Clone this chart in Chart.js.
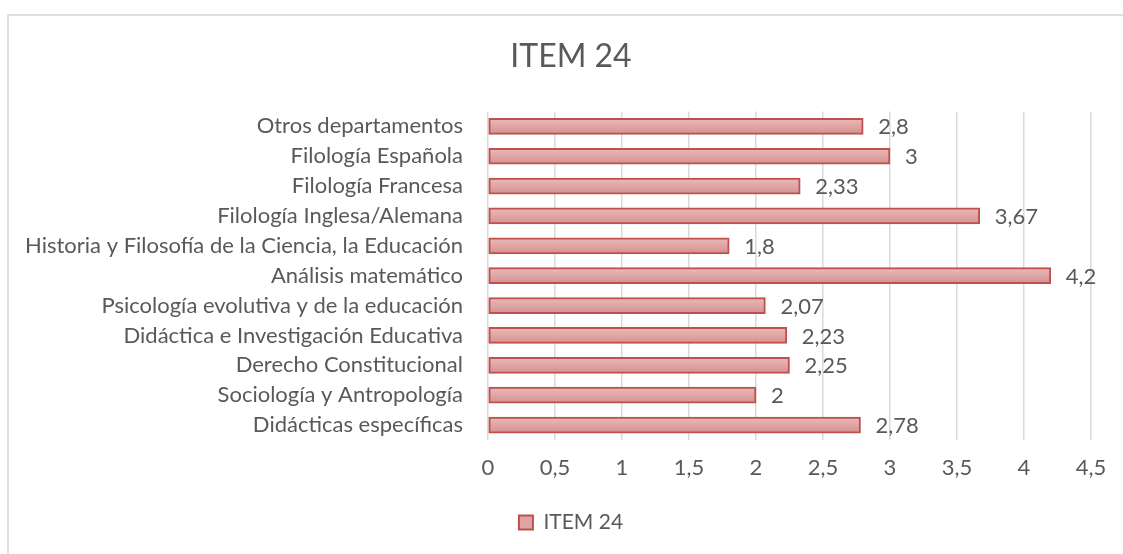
<!DOCTYPE html>
<html>
<head>
<meta charset="utf-8">
<script src="https://cdn.jsdelivr.net/npm/chart.js@4"></script>
<style>
    html, body { margin: 0; padding: 0; background: #fff; overflow: hidden; }
    #marco { position: absolute; left: 7px; top: 14px; width: 1200px; height: 600px; border: 2px solid #dedede; box-sizing: border-box; }
    #zona { position: absolute; left: 0; top: 0; width: 1123px; height: 554px; }
</style>
</head>
<body>
<div id="marco"></div>
<div id="zona"><canvas id="myChart"></canvas></div>
<script>
// ------------------------------ les données du graphique ------------------------------//
const departamentos = [
    'Otros departamentos',
    'Filología Española',
    'Filología Francesa',
    'Filología Inglesa/Alemana',
    'Historia y Filosofía de la Ciencia, la Educación',
    'Análisis matemático',
    'Psicología evolutiva y de la educación',
    'Didáctica e Investigación Educativa',
    'Derecho Constitucional',
    'Sociología y Antropología',
    'Didácticas específicas'
]
const valoresItem24 = [2.8, 3, 2.33, 3.67, 1.8, 4.2, 2.07, 2.23, 2.25, 2, 2.78]
const ticksX = [0, 0.5, 1, 1.5, 2, 2.5, 3, 3.5, 4, 4.5]
//---------------------------------------------------------------------------------------//

const gris = '#595959'
const fuente = 'Lato, "Noto Sans", sans-serif'
const coma = (v) => String(v).replace('.', ',')

// degradé vertical pour chaque barre
function relleno(context) {
    const chart = context.chart
    const y = chart.scales.y
    if (!y || context.type !== 'data' || isNaN(y.top)) return '#dc9f9e'
    const yc = y.getPixelForValue(context.dataIndex)
    const g = chart.ctx.createLinearGradient(0, yc - 8, 0, yc + 8)
    g.addColorStop(0, '#ebbab9')
    g.addColorStop(1, '#d39190')
    return g
}

// les étiquettes des valeurs à droite des barres
const etiquetas = {
    id: 'etiquetas',
    afterDatasetsDraw(chart) {
        const ctx = chart.ctx
        const meta = chart.getDatasetMeta(0)
        ctx.save()
        ctx.font = '22px ' + fuente
        ctx.fillStyle = gris
        ctx.textAlign = 'left'
        ctx.textBaseline = 'middle'
        meta.data.forEach((bar, i) => {
            ctx.fillText(coma(valoresItem24[i]), bar.x + 15, bar.y + 1)
        })
        ctx.restore()
    }
}

const ctx = document.getElementById('myChart').getContext('2d')
const myChart = new Chart(ctx, {
    type: 'bar',
    data: {
        labels: departamentos,
        datasets: [{
            label: 'ITEM 24',
            data: valoresItem24,
            backgroundColor: relleno,
            borderColor: '#c0504d',
            borderWidth: 2,
            borderSkipped: false,
            barThickness: 16
        }]
    },
    plugins: [etiquetas],
    options: {
        indexAxis: 'y',
        responsive: true,
        maintainAspectRatio: false,
        animation: false,
        layout: { padding: { left: 19, right: 0, top: 20, bottom: 11 } },
        scales: {
            x: {
                min: 0,
                max: 4.5,
                afterBuildTicks: (scale) => { scale.ticks = ticksX.map(v => ({ value: v })) },
                afterFit: (scale) => { scale.height = 62; scale.paddingRight = 32 },
                grid: { color: '#d9d9d9', lineWidth: 1.5, drawTicks: false },
                border: { display: false },
                ticks: {
                    color: gris,
                    padding: 15,
                    font: { family: fuente, size: 22 },
                    callback: (v) => coma(v)
                }
            },
            y: {
                afterFit: (scale) => { scale.width = 469 },
                grid: { display: false, drawTicks: false },
                border: { display: false },
                ticks: {
                    color: gris,
                    padding: 25,
                    autoSkip: false,
                    font: { family: fuente, size: 22 }
                }
            }
        },
        plugins: {
            title: {
                display: true,
                text: 'ITEM 24',
                color: gris,
                font: { family: fuente, size: 32, weight: 'normal' },
                padding: { top: 17, bottom: 36 }
            },
            legend: {
                position: 'bottom',
                labels: {
                    color: gris,
                    boxWidth: 14,
                    boxHeight: 14,
                    padding: 10,
                    font: { family: fuente, size: 21 },
                    generateLabels: () => [{
                        text: 'ITEM 24',
                        fillStyle: '#dea3a2',
                        strokeStyle: '#c0504d',
                        lineWidth: 2,
                        fontColor: gris,
                        datasetIndex: 0
                    }]
                }
            },
            tooltip: { enabled: false }
        }
    }
})
</script>
</body>
</html>
